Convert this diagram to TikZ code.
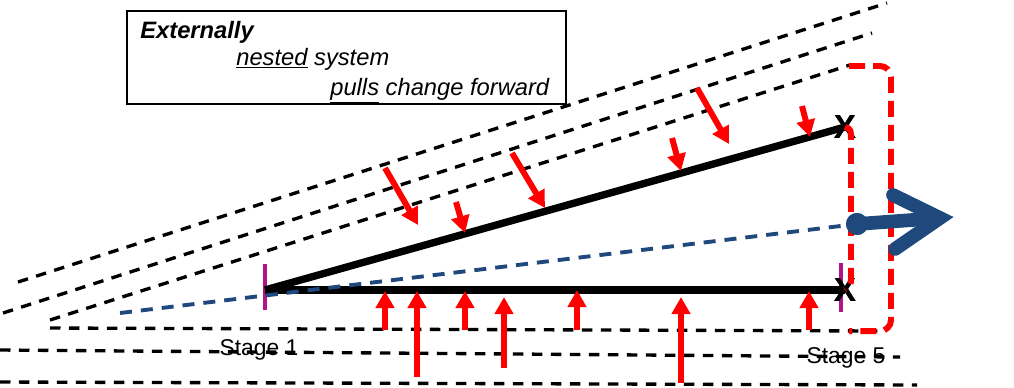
\documentclass[tikz,border=0pt]{standalone}
\usepackage{fontspec}
\setmainfont{Liberation Sans}
\usetikzlibrary{arrows.meta}
\definecolor{navy}{RGB}{31,73,125}
\definecolor{tickpurple}{RGB}{176,20,140}

\begin{document}
\begin{tikzpicture}[x=0.02cm,y=-0.02cm,>={Triangle[width=0.36cm,length=0.34cm]}]
  \tikzstyle{guide}=[black,line width=1.9pt,dash pattern=on 0.21cm off 0.17cm]
  \tikzstyle{track}=[black,line width=4.2pt]
  \tikzstyle{push}=[->,red,line width=3.4pt]
  \tikzstyle{bound}=[red,line width=3.4pt,dash pattern=on 0.32cm off 0.16cm]
  \tikzstyle{stagetick}=[tickpurple,line width=2.8pt]
  \tikzstyle{endx}=[font=\fontsize{19}{19}\selectfont\bfseries,inner sep=0pt]
  \tikzstyle{stagename}=[font=\fontsize{13}{15}\selectfont,inner sep=0pt]
  \tikzstyle{boxtext}=[anchor=base west,inner sep=0pt,font=\fontsize{13.5}{16}\selectfont\itshape]
  \useasboundingbox (0,0) rectangle (1014,387);
  % nested system boundaries
  \draw[guide] (18,282) -- (887,3);
  \draw[guide] (3,313) -- (872,33);
  \draw[guide] (50,320) -- (850,65);
  \draw[guide] (50,328) -- (880,331);
  \draw[guide] (0,350) -- (900,357);
  \draw[guide] (0,382) -- (917,385);
  % stages
  \coordinate (s1) at (265,290);
  \draw[stagetick] (265,264) -- (265,310);
  \draw[stagetick] (841,263) -- (841,312);
  \node[endx] (xup) at (845,127) {X};
  \node[endx] (xlow) at (845,290) {X};
  \draw[track] (s1) -- (xup.center);
  \draw[track] (s1) -- (xlow.center);
  \node[circle,fill=navy,inner sep=0pt,minimum size=0.44cm] (dot) at (857,224) {};
  \draw[navy,line width=2.2pt,dash pattern=on 0.24cm off 0.18cm] (120,313) -- (dot.center);
  \node[endx] at (xup) {X};
  \node[endx] at (xlow) {X};
  % forces
  \foreach \i/\a/\b/\c/\d in {1/385/168/418/225,2/456/202/465/233,3/512/153/545/208,
      4/672/138/681/171,5/697/88/729/144,6/802/106/810/137,
      7/385/330/385/291,8/417/377/417/291,9/465/330/465/291,10/504/368/504/297,
      11/577/330/577/290,12/681/383/681/297,13/809/330/809/291}
  {
    \coordinate (f\i) at (\a,\b);
    \coordinate (g\i) at (\c,\d);
    \draw[push] (f\i) -- (g\i);
  }
  \draw[bound,rounded corners=0.22cm] (849,66) -- (891,66) -- (891,331) -- (849,331);
  \draw[bound] (xup.center) .. controls (851,129) .. (851,143) -- (851,276)
    .. controls (851,286) .. (xlow.center);
  % direction of change
  \coordinate (tip) at (940,218);
  \node[circle,fill=navy,inner sep=0pt,minimum size=0.44cm] at (dot) {};
  \draw[navy,line width=7.8pt] (dot.center) -- (tip);
  \draw[navy,line width=7.8pt,line cap=round,miter limit=10] (893,195) -- (tip) -- (895,249);
  % legend
  \node[draw,line width=1.2pt,fill=white,minimum width=8.78cm,minimum height=1.86cm,inner sep=0pt] (box) at (346.5,57.5) {};
  \node[boxtext,font=\fontsize{13.5}{16}\selectfont\bfseries\itshape] (ext) at (140,38) {Externally};
  \node[boxtext] (nest) at (236,65) {\underline{nested} system};
  \node[boxtext] (pull) at (330,95) {\underline{pulls} change forward};
  \node[stagename] (st1) at (259,350) {Stage 1};
  \node[stagename] (st5) at (846,358) {Stage 5};
\end{tikzpicture}
\end{document}
